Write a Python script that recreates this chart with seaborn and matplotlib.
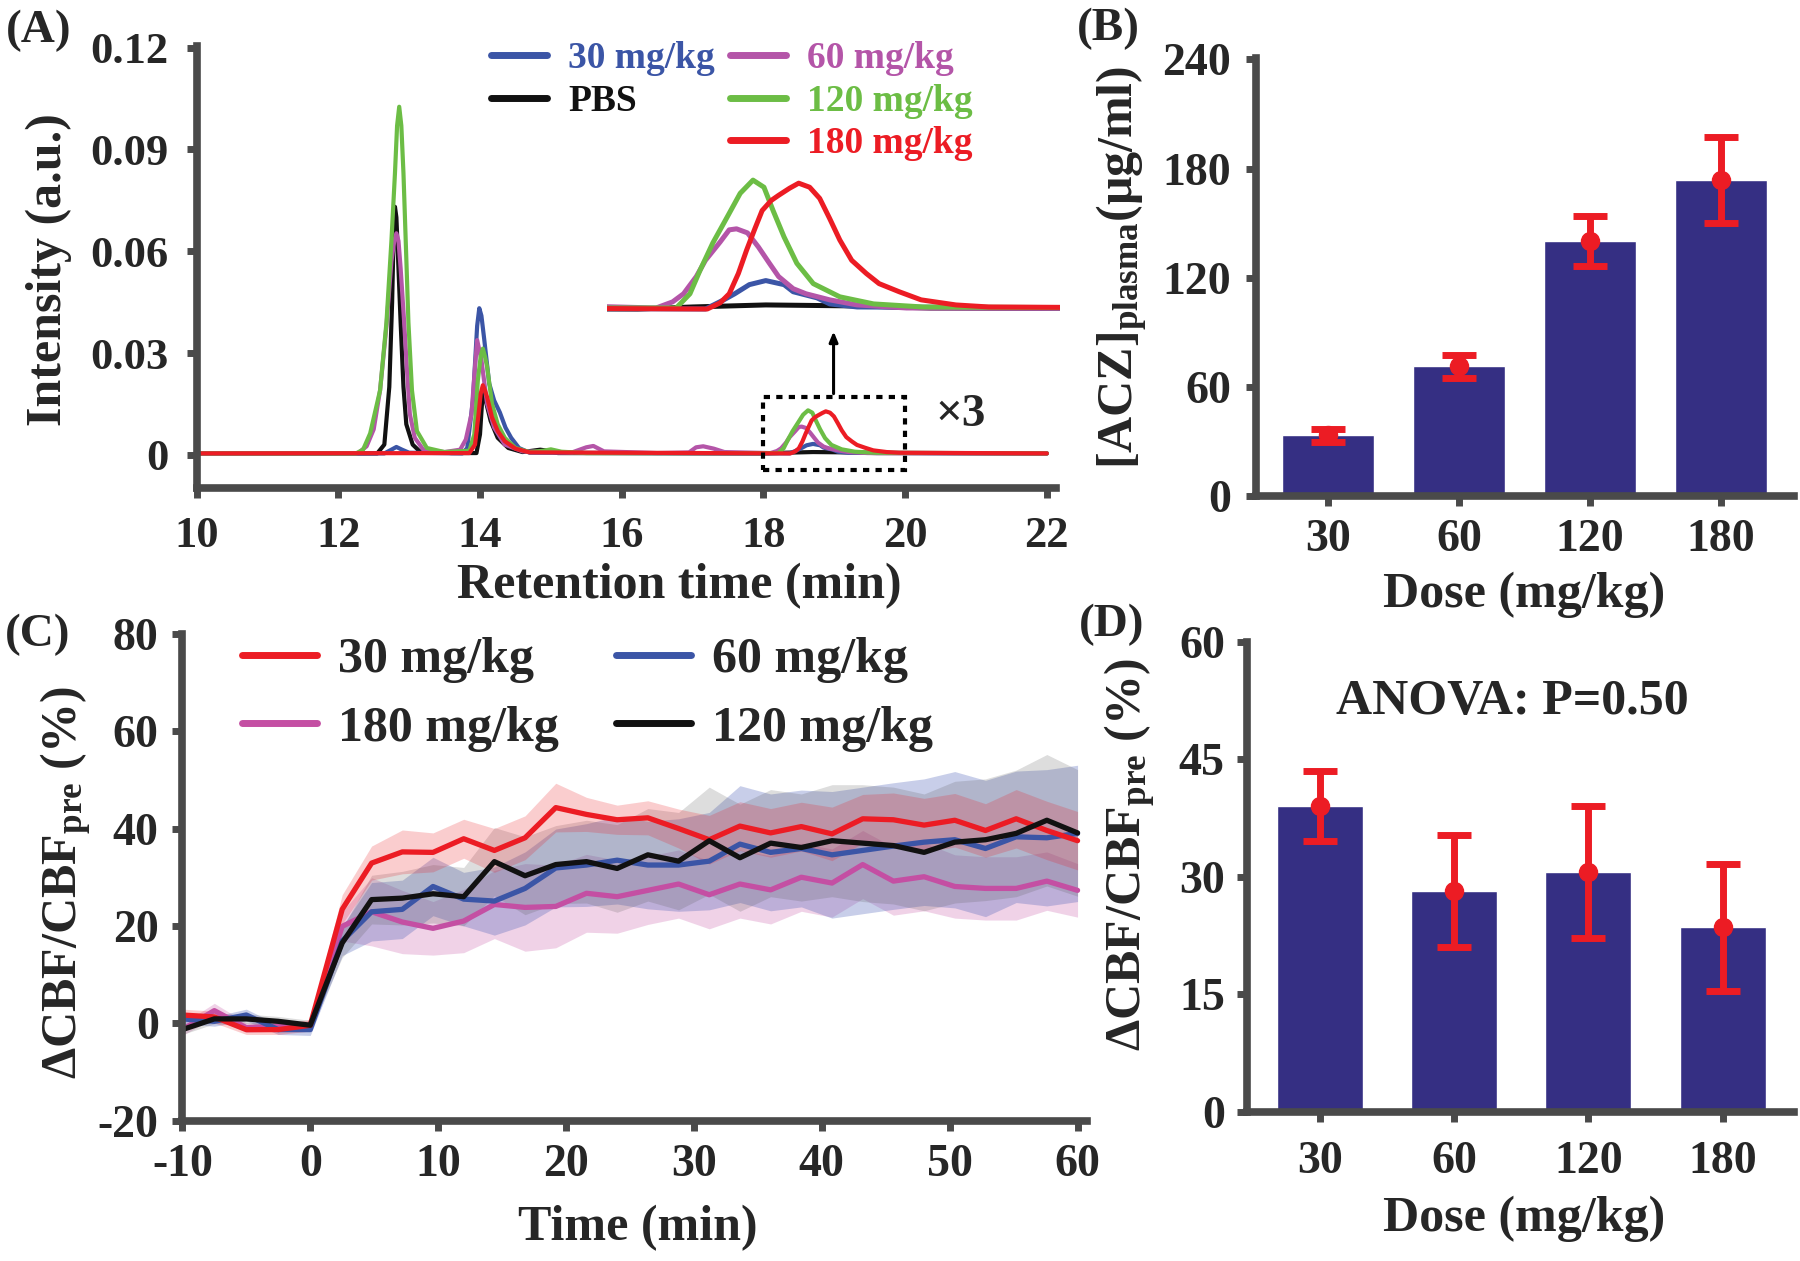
import numpy as np
import pandas as pd
import matplotlib
matplotlib.use('Agg')
import matplotlib.pyplot as plt
import seaborn as sns
from matplotlib.patches import Rectangle

# ---------------- data ----------------
# Panel A: chromatograms (retention time in min, intensity in a.u.)
A_PBS_T = [10.0, 12.55, 12.65, 12.72, 12.76, 12.78, 12.80, 12.82, 12.84, 12.88, 12.92, 12.96, 13.05, 13.15, 13.6,
           13.95, 14.00, 14.04, 14.08, 14.15, 14.25, 14.4, 14.6, 14.85, 14.95, 15.1, 18.0, 18.3, 18.7, 19.2, 19.6, 22.0]
A_PBS_Y = [0.0004, 0.0004, 0.003, 0.02, 0.045, 0.064, 0.0731, 0.070, 0.06, 0.039, 0.02, 0.009, 0.003, 0.001, 0.0005,
           0.0005, 0.006, 0.019, 0.016, 0.01, 0.005, 0.002, 0.0008, 0.0015, 0.0012, 0.0005, 0.0004, 0.0006, 0.0008,
           0.0007, 0.0005, 0.0004]

A_30_T = [10.0, 12.65, 12.75, 12.82, 12.9, 13.0, 13.75, 13.82, 13.9, 13.96, 13.99, 14.02, 14.06, 14.13, 14.2, 14.28,
          14.36, 14.44, 14.55, 14.7, 18.37, 18.47, 18.53, 18.61, 18.70, 18.80, 18.85, 18.98, 19.05, 19.2, 22.0]
A_30_Y = [0.0004, 0.0004, 0.0015, 0.0023, 0.0015, 0.0006, 0.0004, 0.002, 0.016, 0.038, 0.0432, 0.041, 0.034, 0.021,
          0.016, 0.0125, 0.008, 0.005, 0.002, 0.0006, 0.0004, 0.0013, 0.0019, 0.0028, 0.0032, 0.0028, 0.0021, 0.0015,
          0.0009, 0.0006, 0.0004]

A_60_T = [10.0, 12.28, 12.40, 12.50, 12.59, 12.68, 12.75, 12.79, 12.82, 12.85, 12.88, 12.93, 12.97, 13.01, 13.08, 13.2,
          13.5, 13.72, 13.8, 13.88, 13.93, 13.96, 14.02, 14.1, 14.2, 14.35, 14.6, 15.3, 15.5, 15.6, 15.75, 16.5, 16.95,
          17.05, 17.15, 17.3, 17.45, 18.10, 18.19, 18.25, 18.32, 18.37, 18.45, 18.50, 18.54, 18.60, 18.66, 18.72,
          18.77, 18.85, 18.92, 19.05, 19.2, 19.47, 22.0]
A_60_Y = [0.0004, 0.0005, 0.0025, 0.0075, 0.019, 0.038, 0.057, 0.063, 0.0653, 0.063, 0.055, 0.039, 0.025, 0.012,
          0.005, 0.0015, 0.0008, 0.0015, 0.0045, 0.012, 0.026, 0.0338, 0.028, 0.015, 0.008, 0.003, 0.001, 0.0007,
          0.0022, 0.0026, 0.001, 0.0005, 0.0007, 0.0022, 0.0025, 0.0018, 0.0008, 0.0005, 0.0011, 0.0019, 0.0036,
          0.0052, 0.0070, 0.0082, 0.0083, 0.0079, 0.0065, 0.0049, 0.0036, 0.0024, 0.0019, 0.0013, 0.0008, 0.0005,
          0.0004]

A_120_T = [10.0, 12.25, 12.35, 12.45, 12.59, 12.68, 12.75, 12.80, 12.83, 12.86, 12.89, 12.92, 12.96, 12.99, 13.04,
           13.11, 13.25, 13.5, 13.85, 13.92, 13.97, 14.01, 14.04, 14.07, 14.10, 14.17, 14.25, 14.35, 14.5, 14.7, 14.9,
           15.0, 15.15, 15.5, 18.21, 18.285, 18.34, 18.41, 18.49, 18.56, 18.63, 18.69, 18.74, 18.80, 18.87, 18.96,
           19.105, 19.29, 19.56, 22.0]
A_120_Y = [0.0004, 0.0004, 0.0015, 0.0063, 0.019, 0.039, 0.063, 0.083, 0.097, 0.1026, 0.097, 0.083, 0.058, 0.039,
           0.019, 0.007, 0.002, 0.0008, 0.0012, 0.006, 0.022, 0.029, 0.0313, 0.029, 0.026, 0.015, 0.009, 0.005, 0.002,
           0.0008, 0.0012, 0.0016, 0.0009, 0.0005, 0.0005, 0.0019, 0.0042, 0.0069, 0.0095, 0.0118, 0.0131, 0.0124,
           0.0101, 0.0075, 0.0049, 0.0029, 0.0016, 0.0009, 0.0006, 0.0004]

A_180_T = [10.0, 13.85, 13.93, 13.98, 14.01, 14.04, 14.07, 14.1, 14.17, 14.25, 14.35, 14.5, 14.7, 18.38, 18.45, 18.50,
           18.55, 18.595, 18.64, 18.68, 18.73, 18.77, 18.83, 18.88, 18.94, 18.995, 19.05, 19.105, 19.17, 19.25, 19.32,
           19.43, 19.55, 19.74, 19.92, 22.0]
A_180_Y = [0.0004, 0.0005, 0.003, 0.012, 0.018, 0.0205, 0.019, 0.017, 0.011, 0.007, 0.004, 0.0018, 0.0007, 0.0004,
           0.0010, 0.0019, 0.0039, 0.0062, 0.0083, 0.0101, 0.0111, 0.0116, 0.0123, 0.0128, 0.0124, 0.0113, 0.0093,
           0.0072, 0.0052, 0.0039, 0.0029, 0.0021, 0.0013, 0.0008, 0.0006, 0.0004]

A_XTICKS = [10, 12, 14, 16, 18, 20, 22]
A_YTICKS = [0, 0.03, 0.06, 0.09, 0.12]
A_YTICKLABELS = ['0', '0.03', '0.06', '0.09', '0.12']

# Panel B: plasma concentration
DOSES = ['30', '60', '120', '180']
B_MEAN = [33.5, 71.5, 140.2, 173.6]
B_ERR = [3.6, 6.3, 13.6, 23.7]
B_YTICKS = [0, 60, 120, 180, 240]

# Panel C: CBF time courses
C_TIME = [-10, -7.5, -5, -2.5, 0, 2.5, 4.8, 7.2, 9.6, 12, 14.4, 16.8, 19.2, 21.6, 24, 26.4, 28.8, 31.2, 33.6, 36,
          38.4, 40.8, 43.2, 45.6, 48, 50.4, 52.8, 55.2, 57.6, 60]
C_30 = [1.7, 1.3, -1.3, -1.3, -0.4, 23.4, 32.9, 35.2, 35.1, 37.9, 35.5, 38.1, 44.3, 42.9, 41.8, 42.2, 40.0, 37.7, 40.5,
        39.1, 40.4, 38.9, 42.0, 41.8, 40.7, 41.7, 39.6, 42.0, 39.6, 37.5]
C_30_SEM = [1.2, 1.2, 1.0, 1.0, 1.2, 3.0, 3.5, 4.5, 4.0, 4.0, 4.5, 4.5, 5.0, 3.5, 3.0, 3.5, 4.0, 5.0, 5.0, 5.0, 5.0,
            5.5, 5.0, 5.5, 5.5, 5.5, 5.5, 6.0, 6.0, 6.0]
C_60 = [0.9, 0.4, 1.7, -1.3, -1.3, 16.9, 22.9, 23.4, 28.1, 25.5, 25.1, 27.7, 31.9, 32.5, 33.5, 32.5, 32.5, 33.3, 36.8,
        35.1, 35.9, 34.6, 35.5, 36.4, 37.2, 37.7, 35.9, 38.3, 38.1, 39.0]
C_60_SEM = [1.0, 1.0, 1.2, 1.0, 1.2, 3.0, 6.0, 6.0, 6.0, 5.5, 7.0, 7.5, 8.0, 8.5, 9.0, 9.0, 9.5, 10.0, 12.0, 12.0,
            12.0, 13.0, 13.0, 13.0, 13.0, 14.0, 14.0, 13.5, 14.0, 14.0]
C_120 = [-1.3, 0.9, 0.9, 0.4, -0.4, 16.5, 25.4, 25.7, 26.6, 26.0, 33.2, 30.3, 32.6, 33.2, 31.8, 34.6, 33.3, 37.5, 34.0,
         37.0, 36.1, 37.5, 37.0, 36.5, 35.1, 37.2, 37.7, 39.0, 41.7, 39.1]
C_120_SEM = [1.0, 1.0, 1.0, 1.0, 1.0, 3.0, 5.0, 5.5, 6.0, 6.0, 7.0, 8.0, 8.0, 8.5, 9.0, 9.5, 10.0, 11.0, 11.0, 11.0,
             11.0, 11.5, 12.0, 12.0, 12.0, 12.5, 12.5, 13.0, 13.5, 13.0]
C_180 = [-1.3, 2.6, -0.9, -0.6, -0.6, 19.9, 22.9, 20.8, 19.5, 21.0, 24.4, 23.8, 24.0, 26.7, 26.0, 27.3, 28.6, 26.4,
         28.6, 27.4, 30.0, 28.8, 32.6, 29.2, 30.1, 28.1, 27.7, 27.7, 29.2, 27.3]
C_180_SEM = [1.2, 1.5, 1.0, 1.0, 1.0, 3.0, 7.0, 6.5, 5.5, 6.5, 7.0, 9.0, 8.5, 8.0, 7.5, 7.0, 7.0, 7.0, 7.0, 7.0, 7.0,
             7.0, 7.0, 7.0, 7.0, 6.5, 6.5, 6.5, 6.0, 5.5]
C_XTICKS = [-10, 0, 10, 20, 30, 40, 50, 60]
C_YTICKS = [-20, 0, 20, 40, 60, 80]

# Panel D: CBF change by dose
D_MEAN = [39.1, 28.2, 30.6, 23.6]
D_ERR = [4.45, 7.15, 8.45, 8.1]
D_YTICKS = [0, 15, 30, 45, 60]

# ---------------- style ----------------
sns.set_style('ticks')
plt.rcParams['font.family'] = ['Liberation Serif', 'DejaVu Serif']
plt.rcParams['font.weight'] = 'bold'
plt.rcParams['axes.labelweight'] = 'bold'
plt.rcParams['axes.unicode_minus'] = False
plt.rcParams['mathtext.fontset'] = 'custom'
plt.rcParams['mathtext.rm'] = 'Liberation Serif:bold'
plt.rcParams['mathtext.bf'] = 'Liberation Serif:bold'
plt.rcParams['mathtext.it'] = 'Liberation Serif:bold'

SP = '#4a4a4a'
BLUE = '#3b55a6'
PURPLE = '#b455a8'
GREEN = '#6cbd45'
RED = '#ec1c24'
BLACK = '#111111'
MAGENTA = '#c44fa3'
BAR = '#352f83'

TICK_FS = 33
LABEL_FS = 35

fig = plt.figure(figsize=(18, 12.61), dpi=100)


def style(ax, xpad=10, ypad=10, fs=TICK_FS):
    for s in ['top', 'right']:
        ax.spines[s].set_visible(False)
    for s in ['left', 'bottom']:
        ax.spines[s].set_linewidth(5.5)
        ax.spines[s].set_color(SP)
    ax.tick_params(direction='out', length=7, width=5, color=SP, labelsize=fs)
    ax.tick_params(axis='x', pad=xpad)
    ax.tick_params(axis='y', pad=ypad)
    ax.set_facecolor('none')


def place_labels(ax, xl, yl, xpos, ypos, fs=LABEL_FS):
    ax.set_xlabel(xl, fontsize=fs, fontweight='bold', va='center', ha='center')
    ax.set_ylabel(yl, fontsize=fs, fontweight='bold', va='center', ha='center')
    ax.xaxis.set_label_coords(*xpos, transform=fig.transFigure)
    ax.yaxis.set_label_coords(*ypos, transform=fig.transFigure)


# ---------------- Panel A ----------------
axA = fig.add_axes([0.1092, 0.6130, 0.4775, 0.3505])
series_A = [
    ('PBS', A_PBS_T, A_PBS_Y, BLACK),
    ('30 mg/kg', A_30_T, A_30_Y, BLUE),
    ('60 mg/kg', A_60_T, A_60_Y, PURPLE),
    ('120 mg/kg', A_120_T, A_120_Y, GREEN),
    ('180 mg/kg', A_180_T, A_180_Y, RED),
]
handles = {}
for name, t, y, c in series_A:
    sns.lineplot(x=t, y=y, ax=axA, color=c, lw=3, estimator=None, sort=False)
    handles[name] = axA.lines[-1]
axA.set_xlim(10, 22.13)
axA.set_ylim(-0.0098, 0.1205)
axA.set_xticks(A_XTICKS)
axA.set_yticks(A_YTICKS)
axA.set_yticklabels(A_YTICKLABELS)
style(axA, xpad=13, ypad=13, fs=32)
place_labels(axA, 'Retention time (min)', 'Intensity (a.u.)', (0.3772, 0.5353), (0.0272, 0.7859), fs=36)

axA.add_patch(Rectangle((18, -0.0045), 2, 0.0216, fill=False, ec='black', lw=3,
                        ls=(0, (1.5, 1.5)), zorder=5))
axA.annotate('', xy=(18.99, 0.0372), xytext=(18.99, 0.0172),
             arrowprops=dict(arrowstyle='-|>,head_length=0.6,head_width=0.25', lw=2.2, color='black'))
axA.text(20.78, 0.0118, '×3', fontsize=34, fontweight='bold', ha='center', va='center')

legA_kw = dict(loc='upper left', bbox_transform=fig.transFigure, frameon=False, fontsize=27,
               handlelength=1.5, handletextpad=0.55, labelspacing=0.2, borderpad=0, borderaxespad=0,
               labelcolor='linecolor')
leg1 = axA.legend(handles=[handles['30 mg/kg'], handles['PBS']], labels=['30 mg/kg', 'PBS'],
                  bbox_to_anchor=(0.2728, 0.9672), **legA_kw)
for l in leg1.get_lines():
    l.set_linewidth(5)
axA.add_artist(leg1)
leg2 = axA.legend(handles=[handles['60 mg/kg'], handles['120 mg/kg'], handles['180 mg/kg']],
                  labels=['60 mg/kg', '120 mg/kg', '180 mg/kg'],
                  bbox_to_anchor=(0.4056, 0.9672), **legA_kw)
for l in leg2.get_lines():
    l.set_linewidth(5)

# inset (x3 magnification of the 18-20 min region)
axI = fig.add_axes([0.3371, 0.7478, 0.2518, 0.1174])
for name, t, y, c in series_A:
    sns.lineplot(x=t, y=y, ax=axI, color=c, lw=3.6, estimator=None, sort=False)
axI.set_xlim(17.83, 20.31)
axI.set_ylim(-0.00049, 0.0141)
axI.axis('off')
axI.set_facecolor('none')

# ---------------- Panel B ----------------
axB = fig.add_axes([0.6978, 0.6063, 0.2989, 0.3481])
sns.barplot(x=DOSES, y=B_MEAN, order=DOSES, color=BAR, saturation=1, width=0.7, errorbar=None, ax=axB)
axB.errorbar(np.arange(len(DOSES)), B_MEAN, yerr=B_ERR, fmt='o', color=RED, ms=13, lw=5,
             capsize=12, capthick=5, zorder=5)
axB.set_xlim(-0.55, 3.56)
axB.set_ylim(0, 241)
axB.set_yticks(B_YTICKS)
style(axB, xpad=9, ypad=11)
place_labels(axB, 'Dose (mg/kg)', r'[ACZ]$_{\mathbf{plasma}}$(μg/ml)', (0.8467, 0.5282), (0.6233, 0.7883), fs=36)

# ---------------- Panel C ----------------
axC = fig.add_axes([0.1013, 0.1113, 0.5026, 0.3861])
series_C = [
    ('180 mg/kg', C_180, C_180_SEM, MAGENTA, 0.25),
    ('60 mg/kg', C_60, C_60_SEM, '#4a5fb8', 0.3),
    ('120 mg/kg', C_120, C_120_SEM, '#555555', 0.2),
    ('30 mg/kg', C_30, C_30_SEM, RED, 0.22),
]
for name, m, s, c, a in series_C:
    lo = [mi - si for mi, si in zip(m, s)]
    hi = [mi + si for mi, si in zip(m, s)]
    axC.fill_between(C_TIME, lo, hi, color=c, alpha=a, lw=0)
hC = {}
for name, m, col in [('180 mg/kg', C_180, MAGENTA), ('60 mg/kg', C_60, BLUE),
                     ('30 mg/kg', C_30, RED), ('120 mg/kg', C_120, BLACK)]:
    sns.lineplot(x=C_TIME, y=m, ax=axC, color=col, lw=3.8, estimator=None, sort=False)
    hC[name] = axC.lines[-1]
axC.set_xlim(-10, 60.74)
axC.set_ylim(-20, 80)
axC.set_xticks(C_XTICKS)
axC.set_yticks(C_YTICKS)
style(axC, xpad=10, ypad=10)
place_labels(axC, 'Time (min)', r'ΔCBF/CBF$_{\mathbf{pre}}$ (%)', (0.3542, 0.0262), (0.0367, 0.2998), fs=36)
legC = axC.legend(handles=[hC['30 mg/kg'], hC['180 mg/kg'], hC['60 mg/kg'], hC['120 mg/kg']],
                  labels=['30 mg/kg', '180 mg/kg', '60 mg/kg', '120 mg/kg'], ncol=2,
                  loc='upper left', bbox_to_anchor=(0.1344, 0.4945), bbox_transform=fig.transFigure,
                  frameon=False, fontsize=36, handlelength=1.5, handletextpad=0.42, labelspacing=0.45,
                  columnspacing=1.15, borderpad=0, borderaxespad=0)
for l in legC.get_lines():
    l.set_linewidth(5)

# ---------------- Panel D ----------------
axD = fig.add_axes([0.6928, 0.1182, 0.3039, 0.3727])
sns.barplot(x=DOSES, y=D_MEAN, order=DOSES, color=BAR, saturation=1, width=0.64, errorbar=None, ax=axD)
axD.errorbar(np.arange(len(DOSES)), D_MEAN, yerr=D_ERR, fmt='o', color=RED, ms=13, lw=5,
             capsize=12, capthick=5, zorder=5)
axD.set_xlim(-0.54, 3.53)
axD.set_ylim(0, 60)
axD.set_yticks(D_YTICKS)
style(axD, xpad=14, ypad=9)
place_labels(axD, 'Dose (mg/kg)', r'ΔCBF/CBF$_{\mathbf{pre}}$ (%)', (0.8467, 0.0333), (0.6278, 0.3220), fs=36)
axD.text(1.43, 52.4, 'ANOVA: P=0.50', fontsize=36, fontweight='bold', ha='center', va='center')

# ---------------- panel letters ----------------
for lab, x, y in [('(A)', 39, 31), ('(B)', 1108, 29), ('(C)', 38, 635), ('(D)', 1112, 625)]:
    fig.text(x / 1800, 1 - y / 1261, lab, fontsize=34, fontweight='bold', ha='center', va='center')

fig.savefig('out.png', dpi=100)
